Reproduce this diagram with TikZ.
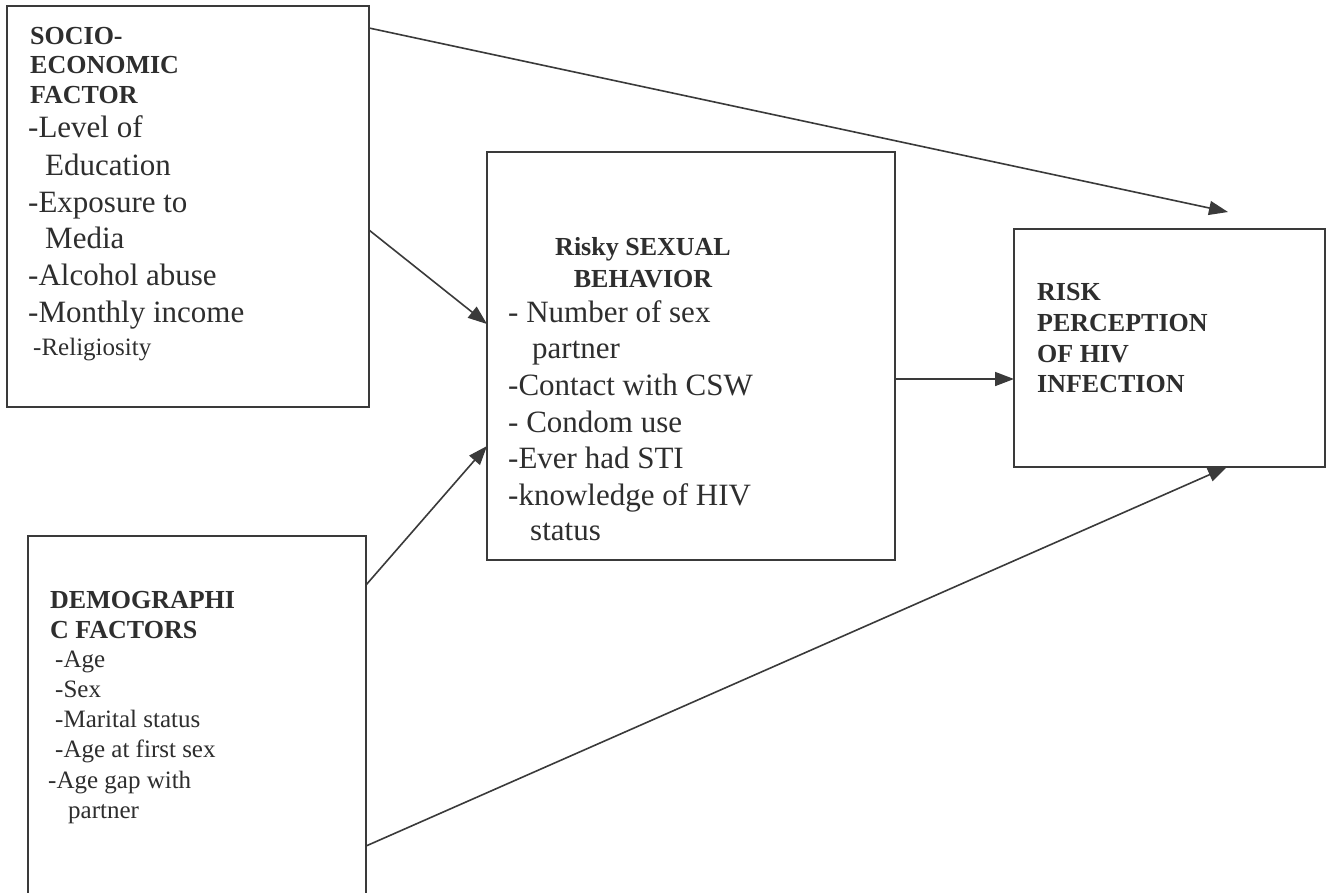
\documentclass[tikz,border=0pt]{standalone}
\usepackage{fontspec}
\setmainfont{Liberation Serif}
\usetikzlibrary{arrows.meta,calc}
\definecolor{ink}{HTML}{2E2E2E}
\definecolor{edge}{HTML}{3A3A3A}
\begin{document}
\begin{tikzpicture}[x=1pt,y=-1pt,
  box/.style={draw=edge,line width=1.7pt,inner sep=0pt,outer sep=0pt,anchor=north west},
  hd/.style={anchor=base west,inner sep=0pt,text=ink,font=\fontsize{26}{30}\selectfont\bfseries},
  hdc/.style={anchor=base,inner sep=0pt,text=ink,font=\fontsize{26}{30}\selectfont\bfseries},
  big/.style={anchor=base west,inner sep=0pt,text=ink,font=\fontsize{31}{37}\selectfont},
  sml/.style={anchor=base west,inner sep=0pt,text=ink,font=\fontsize{25}{30}\selectfont},
  conn/.style={draw=edge,line width=1.6pt,-{Triangle[length=19pt,width=14pt]}}]
\fill[white] (0,0) rectangle (1333,892);
\clip (0,0) rectangle (1333,892);
% boxes
\node[box,minimum width=362pt,minimum height=401pt] (b1) at (7,6) {};
\node[box,minimum width=338pt,minimum height=420pt] (b2) at (28,536) {};
\node[box,minimum width=408pt,minimum height=408pt] (b3) at (487,152) {};
\node[box,minimum width=311pt,minimum height=238pt] (b4) at (1014,229) {};
% socio-economic
\node[hd] (s1) at (30,44) {SOCIO-};
\node[hd] (s2) at (30,73) {ECONOMIC};
\node[hd] (s3) at (30,103) {FACTOR};
\node[big] (s4) at (28,137) {-Level of};
\node[big] (s5) at (45,175) {Education};
\node[big] (s6) at (28,212) {-Exposure to};
\node[big] (s7) at (45,248) {Media};
\node[big] (s8) at (28,285) {-Alcohol abuse};
\node[big] (s9) at (28,322) {-Monthly income};
\node[sml] (s10) at (33,355) {-Religiosity};
% demographic
\node[hd] (d1) at (50,608) {DEMOGRAPHI};
\node[hd] (d2) at (50,638) {C FACTORS};
\node[sml] (d3) at (55,667) {-Age};
\node[sml] (d4) at (55,697) {-Sex};
\node[sml] (d5) at (55,727) {-Marital status};
\node[sml] (d6) at (55,757) {-Age at first sex};
\node[sml] (d7) at (48,788) {-Age gap with};
\node[sml] (d8) at (68,818) {partner};
% risky sexual behavior
\node[hdc] (r1) at (643,255) {Risky SEXUAL};
\node[hdc] (r2) at (643,287) {BEHAVIOR};
\node[big] (r3) at (508,322) {- Number of sex};
\node[big] (r4) at (532,358) {partner};
\node[big] (r5) at (508,395) {-Contact with CSW};
\node[big] (r6) at (508,432) {- Condom use};
\node[big] (r7) at (508,468) {-Ever had STI};
\node[big] (r8) at (508,505) {-knowledge of HIV};
\node[big] (r9) at (530,540) {status};
% risk perception
\node[hd] (p1) at (1037,300) {RISK};
\node[hd] (p2) at (1037,331) {PERCEPTION};
\node[hd] (p3) at (1037,362) {OF HIV};
\node[hd] (p4) at (1037,392) {INFECTION};
% connectors
\coordinate (t1) at (1228,212);
\draw[conn] ($(b1.north east)+(0,22)$) -- (t1);
\draw[conn] ($(b1.north east)+(0,224)$) -- ($(b3.north west)+(0,172)$);
\draw[conn] ($(b2.north east)+(0,49)$) -- ($(b3.north west)+(0,294)$);
\draw[conn] ($(b2.north east)+(0,310)$) -- ($(b4.south west)+(213,0)$);
\draw[conn] ($(b3.north east)+(0,227)$) -- ($(b4.north west)+(0,150)$);
\end{tikzpicture}
\end{document}
